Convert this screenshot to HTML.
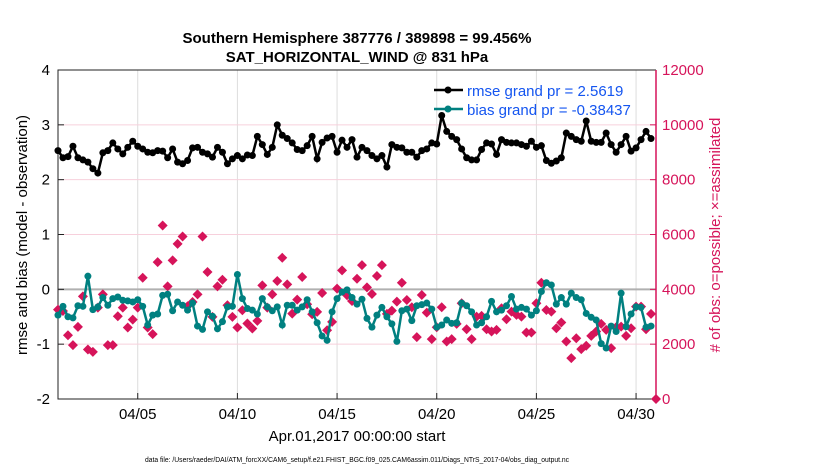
<!DOCTYPE html>
<html><head><meta charset="utf-8"><style>
body{margin:0;background:#fff;}
svg text{font-family:"Liberation Sans",Helvetica,Arial,sans-serif;}
</style></head><body>
<svg id="chart" width="830" height="470" viewBox="0 0 830 470" xmlns="http://www.w3.org/2000/svg">
<rect width="830" height="470" fill="#fff"/>
<text x="357" y="43" text-anchor="middle" font-size="15" font-weight="bold">Southern Hemisphere 387776 / 389898 = 99.456%</text>
<text x="357" y="62" text-anchor="middle" font-size="15" font-weight="bold">SAT_HORIZONTAL_WIND @ 831 hPa</text>
<g id="grid"></g>
<g id="axes"></g>
<g id="series"></g>
<text transform="translate(27,235) rotate(-90)" text-anchor="middle" font-size="15">rmse and bias (model - observation)</text>
<text transform="translate(720,235) rotate(-90)" text-anchor="middle" font-size="15" fill="#d6145a"># of obs: o=possible; ×=assimilated</text>
<text x="357" y="441" text-anchor="middle" font-size="15">Apr.01,2017 00:00:00 start</text>
<text x="357" y="462" text-anchor="middle" font-size="7" textLength="424" lengthAdjust="spacingAndGlyphs">data file: /Users/raeder/DAI/ATM_forcXX/CAM6_setup/f.e21.FHIST_BGC.f09_025.CAM6assim.011/Diags_NTrS_2017-04/obs_diag_output.nc</text>
<g>
<line x1="434" y1="90" x2="463" y2="90" stroke="#000" stroke-width="2.5"/><circle cx="448" cy="90" r="3.5" fill="#000"/>
<text x="467" y="96" font-size="15" fill="#1455f0">rmse grand pr = 2.5619</text>
<line x1="434" y1="109" x2="463" y2="109" stroke="#008080" stroke-width="2.5"/><circle cx="448" cy="109" r="3.5" fill="#008080"/>
<text x="467" y="115" font-size="15" fill="#1455f0">bias grand pr = -0.38437</text>
</g>
</svg>
<script>
const rmse=[2.53,2.40,2.42,2.61,2.40,2.36,2.32,2.2,2.12,2.49,2.53,2.67,2.56,2.47,2.59,2.70,2.61,2.56,2.50,2.49,2.53,2.52,2.40,2.56,2.32,2.29,2.35,2.58,2.59,2.50,2.47,2.41,2.59,2.50,2.29,2.38,2.44,2.38,2.45,2.44,2.79,2.64,2.46,2.59,3.0,2.81,2.75,2.67,2.55,2.53,2.62,2.79,2.38,2.68,2.76,2.79,2.50,2.72,2.59,2.73,2.41,
2.59,2.53,2.44,2.38,2.44,2.23,2.64,2.59,2.58,2.50,2.50,2.41,2.53,2.56,2.67,2.65,3.17,2.88,2.79,2.73,2.56,2.40,2.36,2.36,2.55,2.67,2.65,2.46,2.73,2.68,2.67,2.67,2.64,2.61,2.70,2.59,2.62,2.35,2.30,2.34,2.40,2.85,2.79,2.73,2.70,3.07,2.70,2.68,2.68,2.85,2.64,2.50,2.64,2.79,2.52,2.58,2.73,2.88,2.75];
const bias=[-0.47,-0.31,-0.50,-0.52,-0.30,-0.31,0.24,-0.37,-0.32,-0.15,-0.29,-0.17,-0.14,-0.2,-0.21,-0.23,-0.19,-0.31,-0.65,-0.47,-0.45,-0.11,-0.09,-0.39,-0.23,-0.29,-0.38,-0.25,-0.67,-0.73,-0.41,-0.49,-0.72,-0.59,-0.32,-0.31,0.27,-0.17,-0.35,-0.38,-0.45,-0.17,-0.32,-0.39,-0.32,-0.65,-0.29,-0.29,-0.38,-0.32,-0.19,-0.41,-0.61,-0.85,-0.93,-0.41,-0.17,-0.05,-0.01,-0.15,-0.27,
-0.18,-0.53,-0.69,-0.47,-0.33,-0.50,-0.63,-0.95,-0.39,-0.36,-0.57,-0.30,-0.28,-0.25,-0.36,-0.69,-0.65,-0.56,-0.62,-0.61,-0.25,-0.30,-0.41,-0.65,-0.61,-0.50,-0.22,-0.41,-0.38,-0.30,-0.13,-0.36,-0.33,-0.36,-0.47,-0.39,-0.04,0.12,0.08,-0.27,-0.15,-0.27,-0.07,-0.15,-0.19,-0.44,-0.51,-0.56,-0.99,-1.07,-0.67,-0.77,-0.07,-0.68,-0.45,-0.32,-0.33,-0.69,-0.67];
const nobs=[3261,3212,2327,1964,2630,3745,1806,1721,3333,3818,1964,1964,3018,3333,2606,2897,3333,4424,2606,2364,4994,6327,4109,5054,5660,5927,3382,3539,3818,5927,4630,2994,4109,4351,3418,2994,2606,3236,2752,2570,2849,4145,3333,3818,4303,5151,4182,3115,3624,4448,3455,3091,3176,3867,2509,2812,4024,4691,3782,3576,4388,
4885,4073,3830,4485,4885,3103,3224,3552,4242,3612,3345,2255,3794,3152,2182,2618,3345,2097,2182,2739,3491,2545,2182,3006,3030,2545,2461,2521,3309,2909,3188,3067,3006,2424,2424,3491,4242,3248,3188,2582,2788,2097,1491,2218,1818,1940,2303,2461,2739,2521,1855,2618,2642,2303,2582,3370,3370,2545,3103,0];
const yTicks=[-2,-1,0,1,2,3,4];
const y2Ticks=[0,2000,4000,6000,8000,10000,12000];
const xTickDays=[4,9,14,19,24,29];
const xTickLabels=["04/05","04/10","04/15","04/20","04/25","04/30"];
const stepDays=0.25;

const NS="http://www.w3.org/2000/svg";
const X0=58,X1=656,Y0=399,Y1=70;
const xs=d=>X0+(X1-X0)*d/30;
const ys=v=>Y0-(Y0-Y1)*(v+2)/6;
const ys2=v=>Y0-(Y0-Y1)*v/12000;
function mk(parent,tag,attrs){const e=document.createElementNS(NS,tag);for(const k in attrs)e.setAttribute(k,attrs[k]);document.getElementById(parent).appendChild(e);return e;}

xTickDays.forEach((d,i)=>{
  const g=mk('grid','line',{x1:xs(d),x2:xs(d),y1:Y1,y2:Y0,stroke:'#dcdcdc','stroke-width':1});
  
  
  const t=mk('axes','line',{x1:xs(d),x2:xs(d),y1:Y0,y2:Y0-6,stroke:'#222'});
  
  
  const l=mk('axes','text',{x:xs(d),y:Y0+20,'text-anchor':'middle','font-size':15});
  l.textContent=xTickLabels[i];
  
  
});
yTicks.forEach(v=>{
  if(v!==0&&v!==-2&&v!==4){
    const g=mk('grid','line',{x1:X0,x2:X1,y1:ys(v),y2:ys(v),stroke:'#f7d0dc','stroke-width':1});
    
    
  }
  const t=mk('axes','line',{x1:X0,x2:X0+6,y1:ys(v),y2:ys(v),stroke:'#222'});
  
  
  const l=mk('axes','text',{x:X0-8,y:ys(v)+5,'text-anchor':'end','font-size':15});
  l.textContent=String(v);
  
  
});
y2Ticks.forEach(v=>{
  const t=mk('axes','line',{x1:X1-6,x2:X1,y1:ys2(v),y2:ys2(v),stroke:'#d6145a'});
  
  
  const l=mk('axes','text',{x:X1+6,y:ys2(v)+5,'font-size':15,fill:'#d6145a'});
  l.textContent=String(v);
  
  
});
const zl=mk('grid','line',{x1:X0,x2:X1,y1:ys(0),y2:ys(0),stroke:'#b0b0b0','stroke-width':2});


const frame=mk('axes','path',{d:`M${X1},${Y1}H${X0}V${Y0}H${X1}`,fill:'none',stroke:'#222','stroke-width':1});


const r2=mk('axes','line',{x1:X1,x2:X1,y1:Y1,y2:Y0,stroke:'#d6145a','stroke-width':1.5});



nobs.forEach((v,i)=>{
  const x=xs(i*stepDays),y=ys2(v);
  const d=mk('series','path',{d:`M${x},${y-5}L${x+5},${y}L${x},${y+5}L${x-5},${y}Z`,fill:'#d6145a'});
  
  
});
function line(arr,color,name){
  const p=mk('series','polyline',{points:arr.map((v,i)=>xs(i*stepDays)+','+ys(v)).join(' '),fill:'none',stroke:color,'stroke-width':2.5});
  
  
  arr.forEach((v,i)=>{
    const c=mk('series','circle',{cx:xs(i*stepDays),cy:ys(v),r:3.5,fill:color});
    
    
  });
}
line(bias,'#008080','bias');
line(rmse,'#000','rmse');
</script>
</body></html>
